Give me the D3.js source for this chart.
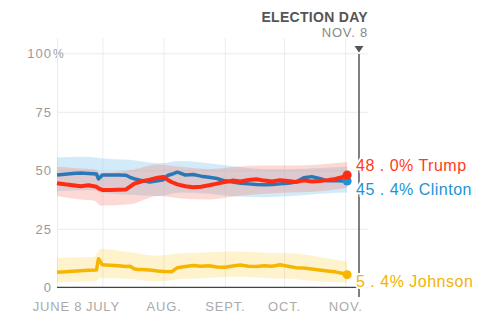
<!DOCTYPE html>
<html lang="en">
<head>
<meta charset="UTF-8">
<title>Election tracking poll</title>
<script src="https://d3js.org/d3.v7.min.js"></script>
<style>
  body { margin: 0; background: #fff; }
  svg text { font-family: "Liberation Sans", Arial, sans-serif; }
</style>
</head>
<body>
<div id="chart"></div>
<script>
// daily tracking values (percent)
const dates = ["2016-06-08","2016-06-12","2016-06-16","2016-06-20","2016-06-24","2016-06-28","2016-06-29",
  "2016-07-01","2016-07-05","2016-07-09","2016-07-13","2016-07-15","2016-07-17","2016-07-19","2016-07-21",
  "2016-07-25","2016-07-29","2016-08-01","2016-08-03","2016-08-05","2016-08-08","2016-08-12","2016-08-16",
  "2016-08-20","2016-08-24","2016-08-28","2016-09-01","2016-09-05","2016-09-09","2016-09-13","2016-09-17",
  "2016-09-21","2016-09-25","2016-09-29","2016-10-03","2016-10-07","2016-10-11","2016-10-15","2016-10-19",
  "2016-10-23","2016-10-27","2016-10-31","2016-11-02"];
const trump = [44.5,44.0,43.6,43.2,43.6,43.0,42.3, 41.6,41.6,41.7,41.8,43.0,44.2,44.8,45.3,
  46.0,46.8,47.2,46.0,45.0,44.0,43.2,42.8, 43.0,43.6,44.3,45.0,45.6,45.2,45.9,46.2,
  45.6,45.2,45.8,45.4,45.0,45.7,45.2,45.4, 45.8,46.3,47.2,48.0];
const clinton = [48.0,48.3,48.6,48.8,48.6,48.4,46.3, 48.0,48.0,48.0,47.9,47.0,46.4,46.0,45.6,
  45.0,45.5,46.0,47.8,48.3,49.2,48.0,48.2, 47.5,47.0,46.5,45.5,45.0,44.5,44.2,43.9,
  43.8,43.9,44.2,44.5,45.0,46.8,47.3,46.5, 45.5,45.6,45.4,45.4];
const johnson = [6.4,6.6,6.9,7.1,7.3,7.4,12.2, 9.6,9.4,9.2,8.9,9.0,7.9,7.6,7.6,
  7.4,7.0,6.8,6.7,6.6,8.4,8.9,9.3, 9.0,9.2,8.7,8.6,9.1,9.5,9.0,8.9,
  9.2,9.0,9.6,9.0,8.4,8.2,7.8,7.4, 7.0,6.6,5.9,5.4];

// uncertainty bands
const bandDates = ["2016-06-08","2016-06-20","2016-06-27","2016-06-30","2016-07-15","2016-07-29","2016-08-10",
  "2016-08-24","2016-09-07","2016-09-21","2016-10-05","2016-10-19","2016-11-02"];
const clintonHi = [55.5,55.8,55.6,55.2,54.5,53.0,54.0,53.0,51.5,50.5,50.5,51.0,51.5];
const clintonLo = [41.0,41.5,41.5,40.5,39.5,39.0,40.5,40.0,38.8,38.5,39.0,40.0,40.5];
const trumpHi   = [51.5,50.8,50.5,49.0,50.0,52.5,51.5,50.5,51.5,52.0,52.0,52.5,53.5];
const trumpLo   = [39.0,37.5,37.0,35.0,35.5,39.0,38.0,37.5,39.0,40.0,40.5,41.0,42.5];
const johnsonHi = [12.5,12.8,13.0,16.5,15.0,13.5,14.5,15.0,15.3,14.8,14.5,13.0,11.0];
const johnsonLo = [2.0,2.5,2.5,4.0,3.5,2.5,3.5,4.0,4.5,4.0,3.5,2.5,2.0];

const tickDates = ["2016-06-08","2016-07-01","2016-08-01","2016-09-01","2016-10-01","2016-11-01"];
const tickLabels = ["JUNE 8","JULY","AUG.","SEPT.","OCT.","NOV."];
const yTicks = [0, 25, 50, 75, 100];
const electionDay = "2016-11-08";

const width = 489, height = 322;
const parse = d3.timeParse("%Y-%m-%d");

const x = d3.scaleTime()
  .domain([parse("2016-06-08"), parse(electionDay)])
  .range([57, 359]);
const y = d3.scaleLinear().domain([0, 100]).range([287.3, 53.3]);

const svg = d3.select("#chart").append("svg")
  .attr("width", width)
  .attr("height", height);

// horizontal grid + y labels
const yAxis = svg.append("g")
  .attr("transform", "translate(57,0)")
  .call(d3.axisLeft(y).tickValues(yTicks).tickSize(-311).tickPadding(5));
yAxis.select(".domain").remove();
yAxis.selectAll(".tick line").attr("stroke", "#ececec");
yAxis.selectAll(".tick text")
  .attr("fill", "#999").attr("font-size", 13).attr("letter-spacing", 1)
  .attr("dy", "0.36em");
yAxis.selectAll(".tick").filter(d => d === 100).append("text")
  .attr("x", -4).attr("dy", "0.36em").attr("text-anchor", "start")
  .attr("fill", "#999").attr("font-size", 12).text("%");

// vertical grid + x labels
const xAxis = svg.append("g")
  .attr("transform", `translate(0,${y(0)})`)
  .call(d3.axisBottom(x)
    .tickValues(tickDates.map(parse))
    .tickFormat((d, i) => tickLabels[i])
    .tickSize(-(y(0) - 38))
    .tickPadding(14));
xAxis.select(".domain").remove();
xAxis.selectAll(".tick line").attr("stroke", "#ececec");
xAxis.selectAll(".tick text")
  .attr("fill", "#aaa").attr("font-size", 13).attr("letter-spacing", 0.8);

// bands
const band = (lo, hi) => d3.area()
  .x((d, i) => x(parse(bandDates[i])))
  .y0((d, i) => y(lo[i]))
  .y1((d, i) => y(hi[i]))
  .curve(d3.curveMonotoneX)(bandDates);

svg.append("path").attr("d", band(clintonLo, clintonHi))
  .attr("fill", "#8ccaf0").attr("opacity", 0.38);
svg.append("path").attr("d", band(trumpLo, trumpHi))
  .attr("fill", "#f57864").attr("opacity", 0.28);
svg.append("path").attr("d", band(johnsonLo, johnsonHi))
  .attr("fill", "#f9c400").attr("opacity", 0.2);

// baseline
svg.append("line")
  .attr("x1", 57).attr("x2", x(parse(electionDay)))
  .attr("y1", y(0)).attr("y2", y(0))
  .attr("stroke", "#444").attr("stroke-width", 1.2);

// election day marker
const ex = x(parse(electionDay));
svg.append("line")
  .attr("x1", ex).attr("x2", ex).attr("y1", 54).attr("y2", 297)
  .attr("stroke", "#555").attr("stroke-width", 1.5);
svg.append("path")
  .attr("d", `M${ex - 4.5},46 L${ex + 4.5},46 L${ex},52.5 Z`)
  .attr("fill", "#555");
svg.append("text")
  .attr("x", 368).attr("y", 22.3).attr("text-anchor", "end")
  .attr("font-size", 14).attr("font-weight", "bold").attr("letter-spacing", 0.3)
  .attr("fill", "#555").text("ELECTION DAY");
svg.append("text")
  .attr("x", 368).attr("y", 36.7).attr("text-anchor", "end")
  .attr("font-size", 13).attr("letter-spacing", 0.8)
  .attr("fill", "#888").text("NOV. 8");

// lines
const series = [
  {name: "Clinton", values: clinton, line: "#2b78b6", label: "#1e93d5", width: 3.5},
  {name: "Trump", values: trump, line: "#ff2b12", label: "#ff3b22", width: 4},
  {name: "Johnson", values: johnson, line: "#f6b500", label: "#f4b300", width: 3.5}
];
const line = d3.line()
  .x((d, i) => x(parse(dates[i])))
  .y(d => y(d));

series.forEach(s => {
  svg.append("path")
    .attr("d", line(s.values))
    .attr("fill", "none")
    .attr("stroke", s.line)
    .attr("stroke-width", s.width)
    .attr("stroke-linejoin", "round");
});

// end dots and labels (Trump/Clinton labels nudged apart)
const labelY = {Trump: 170.7, Clinton: 195, Johnson: 286.7};
const lastX = x(parse(dates[dates.length - 1]));
series.forEach(s => {
  const v = s.values[s.values.length - 1];
  svg.append("circle")
    .attr("cx", lastX).attr("cy", y(v)).attr("r", 4.5)
    .attr("fill", s.name === "Clinton" ? "#1e93d5" : s.line);
  svg.append("text")
    .attr("x", 356).attr("y", labelY[s.name])
    .attr("font-size", 16).attr("letter-spacing", 0.5)
    .attr("fill", s.label)
    .attr("stroke", "#fff").attr("stroke-width", 4)
    .attr("paint-order", "stroke")
    .text(d3.format(".1f")(v).replace(".", " . ") + "% " + s.name);
});
</script>
</body>
</html>
